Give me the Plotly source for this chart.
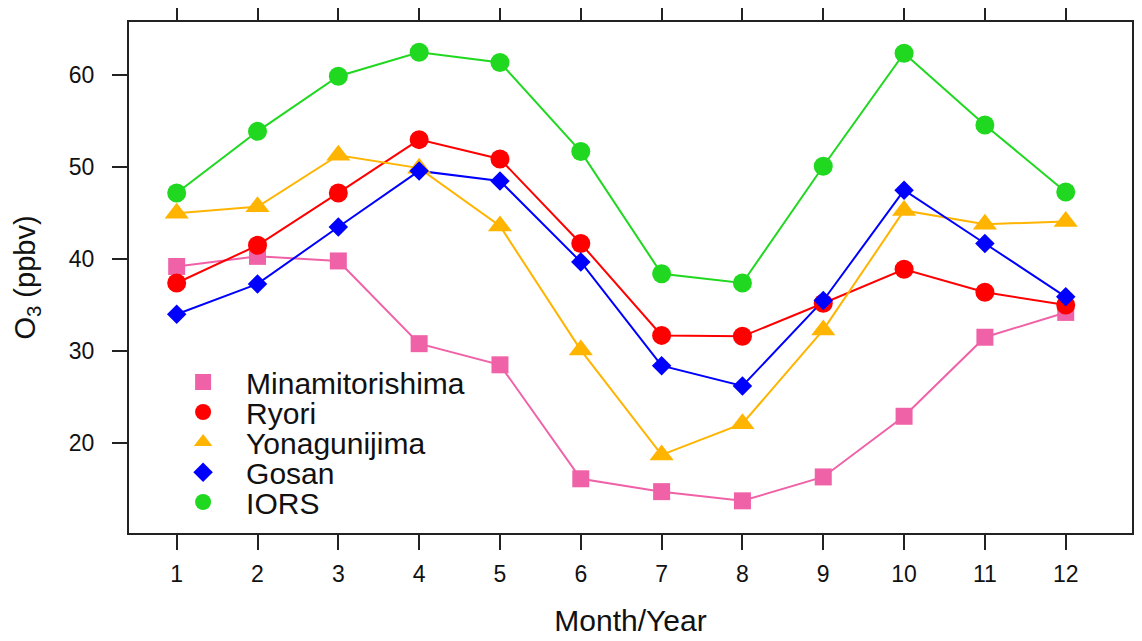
import plotly.graph_objects as go

months = [1, 2, 3, 4, 5, 6, 7, 8, 9, 10, 11, 12]
series_names = ["Minamitorishima", "Ryori", "Yonagunijima", "Gosan", "IORS"]
minamitorishima = [39.2, 40.3, 39.8, 30.8, 28.5, 16.1, 14.7, 13.7, 16.3, 22.9, 31.5, 34.2]
ryori = [37.4, 41.5, 47.2, 53.0, 50.9, 41.7, 31.7, 31.6, 35.2, 38.9, 36.4, 35.0]
yonagunijima = [45.0, 45.7, 51.3, 49.9, 43.6, 30.1, 18.7, 22.1, 32.3, 45.3, 43.8, 44.1]
gosan = [34.0, 37.3, 43.5, 49.6, 48.5, 39.7, 28.4, 26.2, 35.5, 47.5, 41.7, 35.9]
iors = [47.2, 53.9, 59.9, 62.5, 61.4, 51.7, 38.4, 37.4, 50.1, 62.4, 54.6, 47.3]
y_ticks = [20, 30, 40, 50, 60]

values = [minamitorishima, ryori, yonagunijima, gosan, iors]
colors = ["#f062a8", "#ff0000", "#ffb400", "#0000ff", "#20d820"]
symbols = ["square", "circle", "triangle-up", "diamond", "circle"]
sizes = [17, 19, 21, 15, 19]
legend_y = [0.2955, 0.2368, 0.178, 0.119, 0.0607]

FONT = "Liberation Sans, Arial"

fig = go.Figure()
# lines first (drawn beneath markers)
for name, vals, col in zip(series_names, values, colors):
    fig.add_trace(go.Scatter(x=months, y=vals, mode="lines", line=dict(color=col, width=2),
                             showlegend=False, hoverinfo="skip"))
legend_layout = {}
for i, (name, vals, col, sym, sz) in enumerate(zip(series_names, values, colors, symbols, sizes)):
    key = "legend" if i == 0 else f"legend{i+1}"
    fig.add_trace(go.Scatter(x=months, y=vals, mode="markers", name=name,
                             marker=dict(color=col, symbol=sym, size=sz, line=dict(width=0)),
                             legend=key, showlegend=True))
    legend_layout[key] = dict(x=0.031, y=legend_y[i], xanchor="left", yanchor="middle",
                              bgcolor="rgba(0,0,0,0)", borderwidth=0, itemwidth=76,
                              font=dict(family=FONT, size=30, color="#111"))

axis_common = dict(showline=True, linecolor="#222", linewidth=2, mirror="ticks",
                   ticks="outside", ticklen=15, tickwidth=2, tickcolor="#222",
                   showgrid=False, zeroline=False, automargin=False,
                   tickfont=dict(family=FONT, size=23, color="#111"))

# page body adds an 8px offset, so the figure is sized to fit the window
fig.update_layout(
    width=1134, height=633,
    margin=dict(l=121, r=10, t=14, b=108),
    paper_bgcolor="white", plot_bgcolor="white",
    xaxis=dict(range=[0.41, 12.82], tickmode="array", tickvals=months,
               ticklabelstandoff=4,
               title=dict(text="Month/Year", font=dict(family=FONT, size=30, color="#111"),
                          standoff=24),
               **axis_common),
    yaxis=dict(range=[10.2, 65.8], tickmode="array", tickvals=y_ticks,
               ticklabelstandoff=13,
               title=dict(text="O<sub>3</sub> (ppbv)", font=dict(family=FONT, size=29, color="#111"),
                          standoff=25),
               **axis_common),
    **legend_layout,
)

fig.write_html("out.html")
